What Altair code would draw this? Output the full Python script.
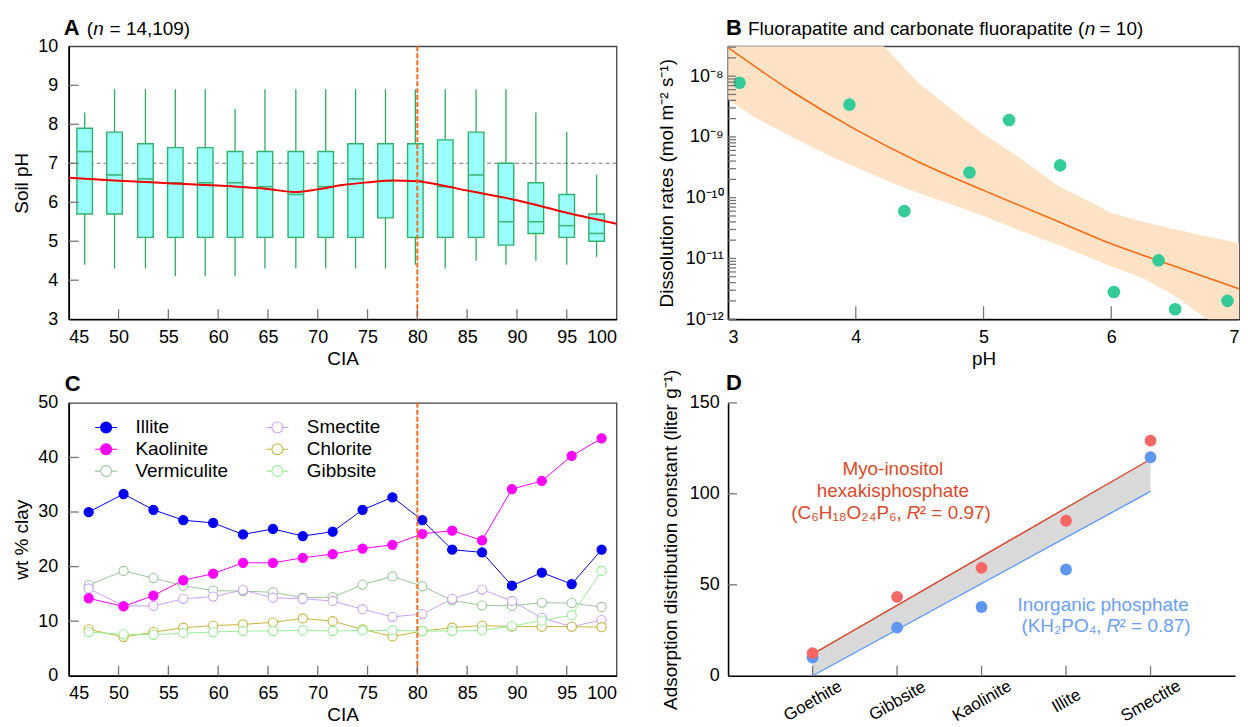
import altair as alt
import pandas as pd

FONT = "Liberation Sans"

# ---------------- Panel A: soil pH vs CIA (box plots) ----------------
a_cia = [46.6, 49.6, 52.7, 55.7, 58.7, 61.7, 64.7, 67.8, 70.8, 73.8, 76.8, 79.8, 82.8, 85.9, 88.9, 91.9, 95.0, 98.0]
a_low = [4.4, 4.3, 4.3, 4.1, 4.1, 4.1, 4.3, 4.3, 4.3, 4.3, 4.3, 4.4, 4.3, 4.5, 4.4, 4.5, 4.4, 4.6]
a_q1 = [5.7, 5.7, 5.1, 5.1, 5.1, 5.1, 5.1, 5.1, 5.1, 5.1, 5.6, 5.1, 5.1, 5.1, 4.9, 5.2, 5.1, 5.0]
a_med = [7.3, 6.7, 6.6, 6.5, 6.5, 6.5, 6.4, 6.2, 6.4, 6.6, 6.55, 6.55, 6.4, 6.7, 5.5, 5.5, 5.4, 5.2]
a_q3 = [7.9, 7.8, 7.5, 7.4, 7.4, 7.3, 7.3, 7.3, 7.3, 7.5, 7.5, 7.5, 7.6, 7.8, 7.0, 6.5, 6.2, 5.7]
a_high = [8.3, 8.9, 8.9, 8.9, 8.9, 8.4, 8.9, 8.9, 8.9, 8.9, 8.9, 8.9, 8.9, 8.9, 8.9, 8.3, 7.8, 6.7]
a_loess_cia = [45, 50, 55, 60, 65, 67.8, 70, 72.5, 75, 77.5, 80, 82.5, 85, 90, 95, 100]
a_loess_ph = [6.63, 6.55, 6.49, 6.43, 6.34, 6.26, 6.33, 6.44, 6.51, 6.56, 6.54, 6.43, 6.30, 6.05, 5.73, 5.45]
a_xticks = [50, 55, 60, 65, 70, 75, 80, 85, 90, 95]
a_yticks = [4, 5, 6, 7, 8, 9]

# ---------------- Panel B: dissolution rates vs pH ----------------
b_ph = [3.09, 3.95, 4.38, 4.89, 5.20, 5.60, 6.02, 6.37, 6.50, 6.91]
b_rate = [7.8e-9, 3.4e-9, 6.0e-11, 2.6e-10, 1.9e-9, 3.4e-10, 2.8e-12, 9.3e-12, 1.46e-12, 2.0e-12]
b_fit_ph = [3.0, 3.5, 4.0, 4.5, 5.0, 5.5, 6.0, 6.5, 7.0]
b_fit_rate = [2.95e-8, 5.6e-9, 1.32e-9, 3.8e-10, 1.32e-10, 4.8e-11, 1.74e-11, 7.4e-12, 3.16e-12]
b_band_ph = [3.0, 3.2, 3.5, 3.8, 4.0, 4.22, 4.5, 4.85, 5.0, 5.3, 5.6, 5.8, 6.0, 6.25, 6.5, 6.75, 7.0]
b_band_low = [4.17e-9, 2.14e-9, 1.0e-9, 4.8e-10, 3.16e-10, 2.0e-10, 1.17e-10, 6.5e-11, 5.0e-11, 2.8e-11,
              1.62e-11, 1.1e-11, 7.4e-12, 4.7e-12, 2.4e-12, 1.0e-12, 4.5e-13]
b_band_high = [1e-5, 4e-6, 1e-6, 2.5e-7, 1e-7, 3.1e-8, 7.4e-9, 1.95e-9, 1.12e-9, 4.3e-10,
               1.48e-10, 9.3e-11, 5.6e-11, 4.0e-11, 3.0e-11, 2.3e-11, 1.8e-11]
b_decades = [1e-12, 1e-11, 1e-10, 1e-9, 1e-8]
b_minor = [k * 10.0 ** e for e in range(-12, -8) for k in range(1, 10)] + [1e-8, 2e-8, 3e-8]
b_xticks = [4, 5, 6]

# ---------------- Panel C: clay minerals vs CIA ----------------
c_cia = [47.0, 50.5, 53.5, 56.5, 59.5, 62.5, 65.5, 68.5, 71.5, 74.5, 77.5, 80.5, 83.5, 86.5, 89.5, 92.5, 95.5, 98.5]
c_illite = [30.0, 33.3, 30.4, 28.5, 28.0, 25.9, 26.9, 25.6, 26.4, 30.4, 32.7, 28.5, 23.1, 22.6, 16.5, 18.9, 16.8, 23.1]
c_kaolinite = [14.2, 12.7, 14.7, 17.5, 18.7, 20.7, 20.7, 21.6, 22.3, 23.3, 24.0, 26.0, 26.6, 24.8, 34.2, 35.7, 40.3, 43.5]
c_vermiculite = [16.6, 19.2, 17.9, 16.5, 15.6, 15.5, 15.3, 14.3, 14.4, 16.7, 18.2, 16.4, 13.8, 12.9, 12.8, 13.4, 13.3, 12.6]
c_smectite = [16.0, 12.8, 12.8, 14.1, 14.5, 15.7, 14.3, 14.1, 13.7, 12.2, 10.8, 11.3, 14.1, 15.8, 13.7, 10.6, 9.0, 10.2]
c_chlorite = [8.5, 7.1, 8.0, 8.8, 9.2, 9.4, 9.8, 10.5, 10.0, 8.5, 7.2, 8.2, 8.8, 9.2, 9.0, 9.0, 9.0, 8.9]
c_gibbsite = [8.0, 7.6, 7.5, 7.8, 8.0, 8.2, 8.2, 8.3, 8.2, 8.3, 8.3, 8.2, 8.2, 8.3, 9.1, 10.1, 11.1, 19.2]
c_order = ["Illite", "Kaolinite", "Vermiculite", "Smectite", "Chlorite", "Gibbsite"]
c_stroke = ["#0000F5", "#FF00FF", "#98C998", "#C9A2F5", "#C8B43C", "#98EE98"]
c_fill = ["#0000F5", "#FF00FF", "#FFFFFF", "#FFFFFF", "#FFFFFF", "#FFFFFF"]
c_xticks = [50, 55, 60, 65, 70, 75, 80, 85, 90, 95]
c_yticks = [10, 20, 30, 40]

# ---------------- Panel D: adsorption distribution constants ----------------
d_minerals = ["Goethite", "Gibbsite", "Kaolinite", "Illite", "Smectite"]
d_index = [1, 2, 3, 4, 5]
d_myo = [12.4, 43.4, 59.3, 85.2, 129.2]
d_inorg = [10.0, 26.5, 37.8, 58.4, 120.1]
d_fit_index = [1, 5]
d_fit_myo = [11.9, 119.0]
d_fit_inorg = [0.0, 101.3]
d_yticks = [50, 100, 150]

one = pd.DataFrame({"k": [0]})

W1, W2, H = 550, 513, 274
W4 = 509
ROWSPACE = 84
ORANGE = "#F36C1E"


def ptxt(s, x, y, size=19, weight="normal", style="normal", color="black", align="left", baseline="alphabetic"):
    return alt.Chart(one).mark_text(text=s, font=FONT, fontSize=size, fontWeight=weight, fontStyle=style,
                                    color=color, align=align, baseline=baseline).encode(
        x=alt.value(x), y=alt.value(y))


class Panel:
    """Shared scales and axes of one panel, reused by all its layers."""

    def __init__(self, xs, ys, ax, ay):
        self.xs, self.ys, self.ax, self.ay = xs, ys, ax, ay

    def X(self, field):
        return alt.X(field, type="quantitative", scale=self.xs, axis=self.ax)

    def Y(self, field):
        return alt.Y(field, type="quantitative", scale=self.ys, axis=self.ay)

    def Xd(self, v):
        return alt.X(datum=v, type="quantitative", scale=self.xs, axis=self.ax)

    def Yd(self, v):
        return alt.Y(datum=v, type="quantitative", scale=self.ys, axis=self.ay)

    def yticks(self, vals, length, color="#777777"):
        return alt.Chart(pd.DataFrame({"v": vals})).mark_rule(color=color, strokeWidth=1.3).encode(
            y=self.Y("v"), x=alt.value(0), x2=alt.value(length))

    def xticks(self, vals, length, h, color="#777777"):
        return alt.Chart(pd.DataFrame({"v": vals})).mark_rule(color=color, strokeWidth=1.3).encode(
            x=self.X("v"), y=alt.value(h), y2=alt.value(h - length))

    def text(self, s, x, y, dx=0, size=19, style="normal", color="black", align="center"):
        return alt.Chart(one).mark_text(text=s, font=FONT, fontSize=size, fontStyle=style, color=color,
                                        align=align, baseline="middle", dx=dx).encode(
            x=self.Xd(x), y=self.Yd(y))


# ======== Panel A ========
dfA = pd.DataFrame({"cia": a_cia, "low": a_low, "q1": a_q1, "med": a_med, "q3": a_q3, "high": a_high})
dfA_l = pd.DataFrame({"cia": a_loess_cia, "ph": a_loess_ph})
pA = Panel(
    alt.Scale(domain=[45, 100], nice=False, zero=False),
    alt.Scale(domain=[3, 10], nice=False, zero=False),
    alt.Axis(values=list(range(45, 101, 5)), title="CIA", labelPadding=9, titlePadding=3, labelOverlap=False),
    alt.Axis(values=list(range(3, 11)), title="Soil pH", labelPadding=11, titlePadding=6, labelOverlap=False,
             labelSeparation=0, labelFontSize=18))

a_whisk = alt.Chart(dfA).mark_rule(color="#2EAD60", strokeWidth=1.3).encode(
    x=pA.X("cia"), y=pA.Y("low"), y2="high:Q")
a_h7 = alt.Chart(one).mark_rule(color="#777777", strokeDash=[4, 3], strokeWidth=1.2).encode(y=pA.Yd(7))
a_box = alt.Chart(dfA).transform_calculate(xl="datum.cia - 0.78", xr="datum.cia + 0.78").mark_rect(
    fill="#9BFFFF", stroke="#2FB36A", strokeWidth=1.4).encode(
    x=pA.X("xl"), x2="xr:Q", y=pA.Y("q1"), y2="q3:Q")
a_med = alt.Chart(dfA).transform_calculate(xl="datum.cia - 0.78", xr="datum.cia + 0.78").mark_rule(
    color="#3DB878", strokeWidth=1.6).encode(
    x=pA.X("xl"), x2="xr:Q", y=pA.Y("med"))
a_loess = alt.Chart(dfA_l).mark_line(color="#F00000", strokeWidth=2, interpolate="monotone").encode(
    x=pA.X("cia"), y=pA.Y("ph"))
a_v80 = alt.Chart(one).mark_rule(color=ORANGE, strokeDash=[5, 2], strokeWidth=2).encode(x=pA.Xd(80))

A = alt.layer(
    a_whisk, a_h7, a_box, a_med, a_loess, a_v80,
    pA.yticks(a_yticks, 10), pA.xticks(a_xticks, 10, H),
    ptxt("A", -5, -11, size=22, weight="bold"),
    ptxt("(", 18, -11), ptxt("n", 24.5, -11, style="italic"), ptxt("= 14,109)", 41, -11),
).properties(width=W1, height=H)

# ======== Panel B ========
dfB = pd.DataFrame({"ph": b_ph, "rate": b_rate})
dfB_fit = pd.DataFrame({"ph": b_fit_ph, "rate": b_fit_rate})
dfB_band = pd.DataFrame({"ph": b_band_ph, "lo": b_band_low, "hi": b_band_high})
lbl_expr = ("datum.value < 5e-12 ? '10\u207b\u00b9\u00b2' : datum.value < 5e-11 ? '10\u207b\u00b9\u00b9' : "
            "datum.value < 5e-10 ? '10\u207b\u00b9\u2070' : datum.value < 5e-9 ? '10\u207b\u2079' : '10\u207b\u2078'")
pB = Panel(
    alt.Scale(domain=[3, 7], nice=False, zero=False),
    alt.Scale(type="log", domain=[1e-12, 3.1e-8], nice=False),
    alt.Axis(values=[3, 4, 5, 6, 7], format="d", title="pH", labelPadding=9, titlePadding=3, labelOverlap=False),
    alt.Axis(values=b_decades, labelExpr=lbl_expr, title="Dissolution rates (mol m\u207b\u00b2 s\u207b\u00b9)",
             labelPadding=5, titlePadding=9, labelOverlap=False))

b_band = alt.Chart(dfB_band).mark_area(color="#FEE2C6", opacity=1, clip=True).encode(
    x=pB.X("ph"), y=pB.Y("lo"), y2="hi:Q")
b_fit = alt.Chart(dfB_fit).mark_line(color="#FF6A10", strokeWidth=1.6, interpolate="monotone", clip=True).encode(
    x=pB.X("ph"), y=pB.Y("rate"))
b_pts = alt.Chart(dfB).mark_circle(color="#33CC99", size=160, opacity=1).encode(
    x=pB.X("ph"), y=pB.Y("rate"))

B = alt.layer(
    b_band, b_fit, b_pts,
    pB.yticks(b_minor, 8), pB.xticks(b_xticks, 13, H),
    ptxt("B", -2, -11, size=22, weight="bold"),
    ptxt("Fluorapatite and carbonate fluorapatite (", 20, -11),
    ptxt("n", 358, -11, style="italic"), ptxt("= 10)", 373, -11),
).properties(width=W2, height=H)

# ======== Panel C ========
series = {"Illite": c_illite, "Kaolinite": c_kaolinite, "Vermiculite": c_vermiculite,
          "Smectite": c_smectite, "Chlorite": c_chlorite, "Gibbsite": c_gibbsite}
draw_order = ["Vermiculite", "Smectite", "Chlorite", "Gibbsite", "Kaolinite", "Illite"]
rows = []
for name in draw_order:
    for x, v in zip(c_cia, series[name]):
        rows.append({"cia": x, "wt": v, "mineral": name})
dfC = pd.DataFrame(rows)
pC = Panel(
    alt.Scale(domain=[45, 100], nice=False, zero=False),
    alt.Scale(domain=[0, 50], nice=False, zero=False),
    alt.Axis(values=list(range(45, 101, 5)), title="CIA", labelPadding=9, titlePadding=3, labelOverlap=False),
    alt.Axis(values=[0, 10, 20, 30, 40, 50], title="wt % clay", labelPadding=11, titlePadding=6,
             labelOverlap=False))
cscale = alt.Scale(domain=c_order, range=c_stroke)
fscale = alt.Scale(domain=c_order, range=c_fill)
SYM = "M-2,0L-1,0M1,0L2,0M-1,0A1,1,0,1,1,1,0A1,1,0,1,1,-1,0Z"
# legend position is measured from the top-left panel's plot origin
c_legend = alt.Legend(
    title=None, orient="none", legendX=28, legendY=15 + H + ROWSPACE, columns=2, columnPadding=36,
    rowPadding=2, labelFontSize=19, labelFont=FONT, labelColor="black", labelOffset=20, symbolType=SYM,
    symbolSize=121, symbolStrokeWidth=1.1, symbolFillColor="#FFFFFF", padding=0)

c_lines = alt.Chart(dfC).mark_line(strokeWidth=1).encode(
    x=pC.X("cia"), y=pC.Y("wt"),
    color=alt.Color("mineral:N", scale=cscale, legend=c_legend), detail="mineral:N")
c_pts = alt.Chart(dfC).mark_point(shape="circle", strokeWidth=1.1, opacity=1, filled=False, size=85).encode(
    x=pC.X("cia"), y=pC.Y("wt"),
    color=alt.Color("mineral:N", scale=cscale, legend=c_legend),
    fill=alt.Fill("mineral:N", scale=fscale, legend=c_legend))
c_v80 = alt.Chart(one).mark_rule(color=ORANGE, strokeDash=[5, 2], strokeWidth=2).encode(x=pC.Xd(80))

C = alt.layer(
    c_lines, c_pts, c_v80,
    pC.yticks(c_yticks, 10), pC.xticks(c_xticks, 10, H),
    ptxt("C", -4, -12, size=22, weight="bold"),
).properties(width=W1, height=H)

# ======== Panel D ========
dfD = pd.DataFrame({"idx": d_index, "mineral": d_minerals, "myo": d_myo, "inorg": d_inorg})
dfD_fit = pd.DataFrame({"idx": d_fit_index, "myo": d_fit_myo, "inorg": d_fit_inorg})
names_js = "[" + ",".join("'" + m + "'" for m in d_minerals) + "]"
pD = Panel(
    alt.Scale(domain=[0, 6], nice=False, zero=False),
    alt.Scale(domain=[0, 150], nice=False, zero=False),
    alt.Axis(values=d_index, labelExpr=names_js + "[datum.value - 1]", title=None, labelAngle=-30,
             labelAlign="center", labelBaseline="middle", labelPadding=25, labelFontSize=17,
             labelOverlap=False),
    alt.Axis(values=[0, 50, 100, 150], title="Adsorption distribution constant (liter g\u207b\u00b9)",
             labelPadding=9, titlePadding=9, labelOverlap=False))
RED_T = "#DD4A2A"
BLUE_T = "#6C9EFF"

d_band = alt.Chart(dfD_fit).mark_area(color="#D9D9D9", opacity=1).encode(
    x=pD.X("idx"), y=pD.Y("inorg"), y2="myo:Q")
d_lmyo = alt.Chart(dfD_fit).mark_line(color="#D9452A", strokeWidth=1.4).encode(x=pD.X("idx"), y=pD.Y("myo"))
d_linorg = alt.Chart(dfD_fit).mark_line(color="#5B9BFF", strokeWidth=1.4).encode(x=pD.X("idx"), y=pD.Y("inorg"))
d_pinorg = alt.Chart(dfD).mark_circle(color="#5E96F2", size=140, opacity=1).encode(x=pD.X("idx"), y=pD.Y("inorg"))
d_pmyo = alt.Chart(dfD).mark_circle(color="#F86666", size=140, opacity=1).encode(x=pD.X("idx"), y=pD.Y("myo"))

D = alt.layer(
    d_band, d_lmyo, d_linorg, d_pinorg, d_pmyo,
    pD.yticks(d_yticks, 9), pD.xticks(d_index, 10, H),
    pD.text("Myo-inositol", 1.95, 113.7, color=RED_T),
    pD.text("hexakisphosphate", 1.95, 101.3, color=RED_T),
    pD.text("(C\u2086H\u2081\u2088O\u2082\u2084P\u2086,", 2.116, 89.4, dx=-5, color=RED_T, align="right"),
    pD.text("R", 2.116, 89.4, style="italic", color=RED_T, align="left"),
    pD.text("\u00b2 = 0.97)", 2.116, 89.4, dx=13, color=RED_T, align="left"),
    pD.text("Inorganic phosphate", 4.44, 38.7, color=BLUE_T),
    pD.text("(KH\u2082PO\u2084,", 4.48, 27.4, dx=-5, color=BLUE_T, align="right"),
    pD.text("R", 4.48, 27.4, style="italic", color=BLUE_T, align="left"),
    pD.text("\u00b2 = 0.87)", 4.48, 27.4, dx=13, color=BLUE_T, align="left"),
    ptxt("D", -2, -13, size=22, weight="bold"),
).properties(width=W4, height=H, view=alt.ViewBackground(stroke="transparent"))

chart = alt.concat(
    A, B, C, D, columns=2, spacing={"row": ROWSPACE, "column": 112}, bounds="flush"
).properties(
    padding={"left": 4, "top": 7, "right": 0, "bottom": 4}
).configure(
    font=FONT
).configure_view(
    stroke="#444444", strokeWidth=1.3
).configure_axis(
    grid=False, ticks=False, tickSize=0, domainColor="black", domainWidth=1.6, labelOverlap=False,
    labelFont=FONT, labelFontSize=18, labelColor="black",
    titleFont=FONT, titleFontSize=19, titleFontWeight="normal", titleColor="black"
)

chart.save("out.html", embed_options={"renderer": "svg", "actions": False})
